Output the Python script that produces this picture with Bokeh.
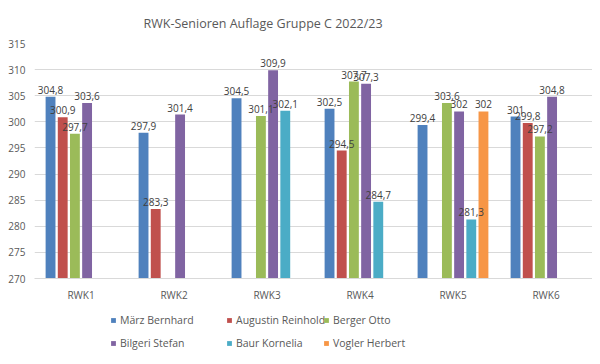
import math
from bokeh.plotting import figure
from bokeh.layouts import column
from bokeh.models import ColumnDataSource, FactorRange, Legend, LegendItem, Title, SingleIntervalTicker
from bokeh.transform import dodge
from bokeh.core.properties import value
from bokeh.embed import file_html
from bokeh.resources import INLINE

rounds = ["RWK1", "RWK2", "RWK3", "RWK4", "RWK5", "RWK6"]
nan = float("nan")
maerz_bernhard = [304.8, 297.9, 304.5, 302.5, 299.4, 301.0]
augustin_reinhold = [300.9, 283.3, nan, 294.5, nan, 299.8]
berger_otto = [297.7, nan, 301.1, 307.7, 303.6, 297.2]
bilgeri_stefan = [303.6, 301.4, 309.9, 307.3, 302.0, 304.8]
baur_kornelia = [nan, nan, 302.1, 284.7, 281.3, nan]
vogler_herbert = [nan, nan, nan, nan, 302.0, nan]

series_names = ["März Bernhard", "Augustin Reinhold", "Berger Otto",
                "Bilgeri Stefan", "Baur Kornelia", "Vogler Herbert"]
series_values = [maerz_bernhard, augustin_reinhold, berger_otto,
                 bilgeri_stefan, baur_kornelia, vogler_herbert]
colors = ["#4F81BD", "#C0504D", "#9BBB59", "#8064A2", "#4BACC6", "#F79646"]

FONT = "Open Sans"
GRAY = "#595959"

def fmt(v):
    if math.isnan(v):
        return ""
    if abs(v - round(v)) < 1e-9:
        return str(int(round(v)))
    return ("%.1f" % v).replace(".", ",")

p = figure(x_range=FactorRange(*rounds), y_range=(270, 315),
           width=592, height=310, output_backend="svg", toolbar_location=None,
           min_border_left=34, min_border_right=0, min_border_top=10, min_border_bottom=32)

p.add_layout(Title(text="RWK-Senioren Auflage Gruppe C 2022/23", align="left", offset=109,
                   text_font=FONT, text_font_size="12.5px", text_font_style="normal",
                   text_color=GRAY, standoff=24), "above")

step = 0.131
width = 0.106
sources = []
for i, (vals, col) in enumerate(zip(series_values, colors)):
    src = ColumnDataSource(dict(x=rounds, top=vals, lab=[fmt(v) for v in vals]))
    off = (i - 2.5) * step
    p.vbar(x=dodge("x", off, range=p.x_range), top="top", bottom=270, width=width,
           source=src, fill_color=col, line_color=None)
    sources.append((src, off))

for src, off in sources:
    p.text(x=dodge("x", off, range=p.x_range), y="top", text="lab", source=src,
           text_align="center", text_baseline="bottom", y_offset=-3,
           text_font=value(FONT), text_font_size="10px", text_color="#404040")

p.yaxis.ticker = SingleIntervalTicker(interval=5)
p.yaxis.axis_line_color = None
p.yaxis.major_tick_line_color = None
p.yaxis.minor_tick_line_color = None
p.yaxis.major_label_text_font = FONT
p.yaxis.major_label_text_font_size = "10px"
p.yaxis.major_label_text_color = GRAY
p.yaxis.major_label_standoff = 3

p.xaxis.axis_line_color = "#D9D9D9"
p.xaxis.major_tick_line_color = None
p.xaxis.minor_tick_line_color = None
p.xaxis.major_label_text_font = FONT
p.xaxis.major_label_text_font_size = "10px"
p.xaxis.major_label_text_color = GRAY
p.xaxis.major_label_standoff = 3

p.xgrid.grid_line_color = None
p.ygrid.grid_line_color = "#D9D9D9"
p.outline_line_color = None
p.x_range.range_padding = 0
p.x_range.group_padding = 0

# legend strip below the chart (three legend columns, two rows each)
lg = figure(width=592, height=46, x_range=(0, 1), y_range=(0, 1), output_backend="svg",
            toolbar_location=None, min_border=0, x_axis_location=None, y_axis_location=None)
lg.grid.grid_line_color = None
lg.outline_line_color = None
renderers = []
for col in colors:
    r = lg.vbar(x=[5], top=[5], bottom=4, width=0.1, fill_color=col, line_color=None)
    renderers.append(r)

col_x = [76, 192, 289]
for c in range(3):
    idx = [c, c + 3]
    items = [LegendItem(label=series_names[k], renderers=[renderers[k]]) for k in idx]
    legend = Legend(items=items, orientation="vertical", location=(col_x[c], 5),
                    label_text_font=FONT, label_text_font_size="10.5px", label_text_color=GRAY,
                    glyph_width=6, glyph_height=6, label_height=16, label_standoff=4,
                    spacing=7, padding=0, margin=0, border_line_color=None,
                    background_fill_alpha=0)
    lg.add_layout(legend, "center")

layout = column(p, lg, spacing=0)
open("out.html", "w").write(file_html(layout, INLINE))
